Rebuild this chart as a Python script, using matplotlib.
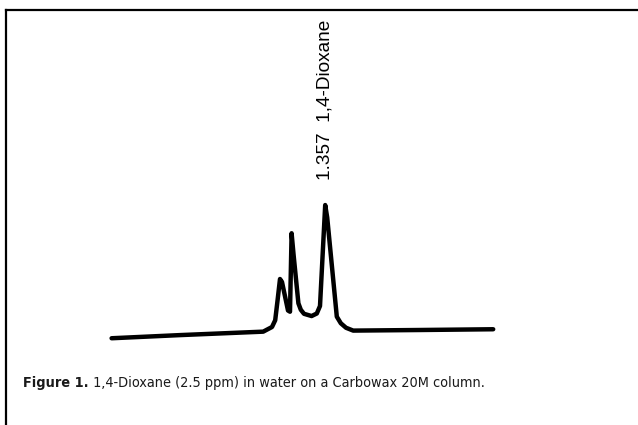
import matplotlib
matplotlib.use("Agg")
import matplotlib.pyplot as plt
from matplotlib.lines import Line2D
from matplotlib import font_manager

# Chromatogram trace (time in arbitrary units, detector response in %)
time = [0.29, 2.0, 4.08, 4.30, 4.38, 4.44, 4.50, 4.55, 4.70, 4.75,
        4.79, 4.84, 4.96, 5.02, 5.10, 5.29, 5.42, 5.50, 5.63, 5.68,
        5.92, 6.02, 6.15, 6.33, 8.0, 9.83]
response = [4.5, 6.6, 8.9, 12.0, 16.5, 30.0, 44.0, 42.0, 23.0, 22.2,
            74.5, 60.0, 27.8, 23.5, 20.8, 19.3, 21.0, 26.0, 93.3, 85.0,
            18.9, 14.5, 11.5, 9.6, 10.0, 10.5]

peak_time = 5.63
peak_label = "1.357  1,4-Dioxane"
caption_bold = "Figure 1."
caption_rest = " 1,4-Dioxane (2.5 ppm) in water on a Carbowax 20M column."

W, H = 638, 425
fig = plt.figure(figsize=(W / 100, H / 100), dpi=100)

# chromatogram axes, placed in pixel terms
ax = fig.add_axes([100 / W, 1 - 345 / H, 400 / W, 150 / H])
ax.plot(time, response, color="black", lw=3.2, solid_joinstyle="round",
        solid_capstyle="round")
ax.set_xlim(0, 10)
ax.set_ylim(0, 100)
ax.axis("off")

# peak label above the main peak
ax.annotate(peak_label, xy=(peak_time, 100), xytext=(0, 11),
            textcoords="offset points", rotation=90, ha="center", va="bottom",
            fontsize=13.7, family="Liberation Sans", annotation_clip=False)

# frame lines (top and left)
fig.add_artist(Line2D([6 / W, 1], [1 - 10 / H, 1 - 10 / H], color="black", lw=1.6,
                      transform=fig.transFigure))
fig.add_artist(Line2D([6 / W, 6 / W], [0, 1 - 10 / H], color="black", lw=1.6,
                      transform=fig.transFigure))


# caption: a condensed face if one is installed, else Roboto
def pick(bold, name=None):
    for f in font_manager.fontManager.ttflist:
        nm = (f.name + " " + f.fname).lower()
        if name is not None and f.name != name:
            continue
        if ("condensed" in nm or "narrow" in nm) and "oblique" not in nm \
                and "italic" not in nm and (f.weight in ("bold", 700)) == bold:
            return f
    return None


f_reg = pick(False)
f_bld = pick(True, f_reg.name) if f_reg else None
if f_reg and not f_bld:
    f_bld = pick(True)
if f_reg and f_bld:
    reg, bld = dict(fname=f_reg.fname), dict(fname=f_bld.fname)
    target = 462
else:
    reg = bld = dict(family="Roboto")
    target = 495

r = fig.canvas.get_renderer()
size = 14
fp_bold = font_manager.FontProperties(size=size, weight="bold", **bld)
fp_reg = font_manager.FontProperties(size=size, **reg)
t1 = fig.text(23 / W, 1 - 387 / H, caption_bold, fontproperties=fp_bold, color="#1a1a1a")
t2 = fig.text(0, 1 - 387 / H, caption_rest, fontproperties=fp_reg, color="#1a1a1a")
w = t1.get_window_extent(r).width + t2.get_window_extent(r).width
size = min(14.5, size * target / w)
t1.set_fontsize(size)
t2.set_fontsize(size)
bb = t1.get_window_extent(r)
t2.set_x(bb.x1 / W)

fig.savefig("out.png", dpi=100)
